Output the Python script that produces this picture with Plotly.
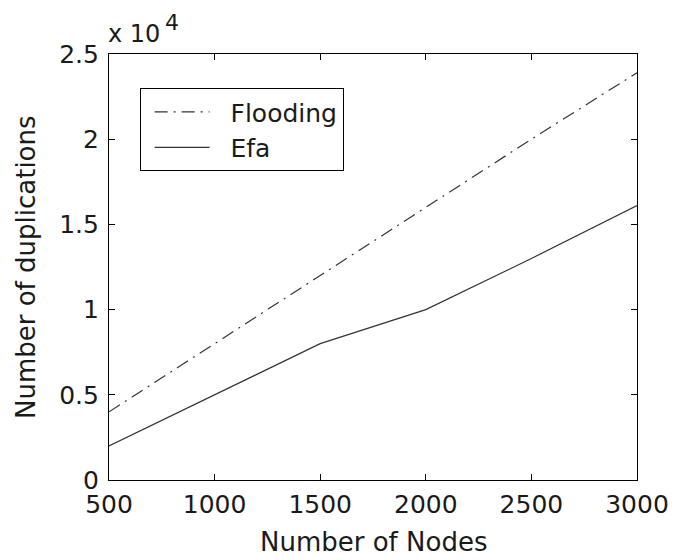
import plotly.graph_objects as go

nodes = [500, 1000, 1500, 2000, 2500, 3000]
flooding = [4000, 8000, 12000, 16000, 20000, 23900]
efa = [2000, 5000, 8000, 10000, 13000, 16100]

y_tickvals = [0, 5000, 10000, 15000, 20000, 25000]
y_ticktext = ["0", "0.5", "1", "1.5", "2", "2.5"]
x_tickvals = [500, 1000, 1500, 2000, 2500, 3000]

FONT = "DejaVu Sans, Arial, sans-serif"
INK = "#1a1a1a"
NB = "\u00a0\u00a0"

fig = go.Figure()
fig.add_trace(go.Scatter(x=nodes, y=flooding, mode="lines", name=NB + "Flooding",
                         line=dict(color="#333333", width=1.2, dash="13px,6px,2px,6px")))
fig.add_trace(go.Scatter(x=nodes, y=efa, mode="lines", name=NB + "Efa",
                         line=dict(color="#333333", width=1.2)))

axis_common = dict(showline=True, linecolor="black", linewidth=1.2, mirror="ticks",
                   ticks="inside", ticklen=6, tickcolor="black", showgrid=False,
                   zeroline=False, tickfont=dict(family=FONT, size=25, color=INK))

fig.update_xaxes(range=[500, 3000], tickvals=x_tickvals, ticklabelstandoff=2, **axis_common)
fig.update_yaxes(range=[0, 25000], tickvals=y_tickvals, ticktext=y_ticktext,
                 ticklabelstandoff=4, **axis_common)

# axis titles
fig.add_annotation(text="Number of Nodes", xref="paper", yref="paper", x=0.5, y=0,
                   xanchor="center", yanchor="middle", yshift=-62, showarrow=False,
                   font=dict(family=FONT, size=26, color=INK))
fig.add_annotation(text="Number of duplications", xref="paper", yref="paper", x=0, y=0.5,
                   xanchor="center", yanchor="middle", xshift=-83, textangle=-90, showarrow=False,
                   font=dict(family=FONT, size=26, color=INK))

# exponent label
fig.add_annotation(text="x 10", xref="paper", yref="paper", x=0.0, y=1.0,
                   xanchor="left", yanchor="bottom", showarrow=False,
                   font=dict(family=FONT, size=24, color=INK), xshift=-3, yshift=4)
fig.add_annotation(text="4", xref="paper", yref="paper", x=0.0, y=1.0,
                   xanchor="left", yanchor="bottom", showarrow=False,
                   font=dict(family=FONT, size=22, color=INK), xshift=54, yshift=17)

fig.update_layout(
    width=673, height=552,
    margin=dict(l=101, r=36, t=46, b=80),
    paper_bgcolor="white", plot_bgcolor="white",
    showlegend=True,
    legend=dict(x=0.058, y=0.92, xanchor="left", yanchor="top",
                bordercolor="black", borderwidth=1, bgcolor="white",
                font=dict(family=FONT, size=25, color=INK),
                itemwidth=55, indentation=9, tracegroupgap=0),
)

fig.write_html("out.html")
